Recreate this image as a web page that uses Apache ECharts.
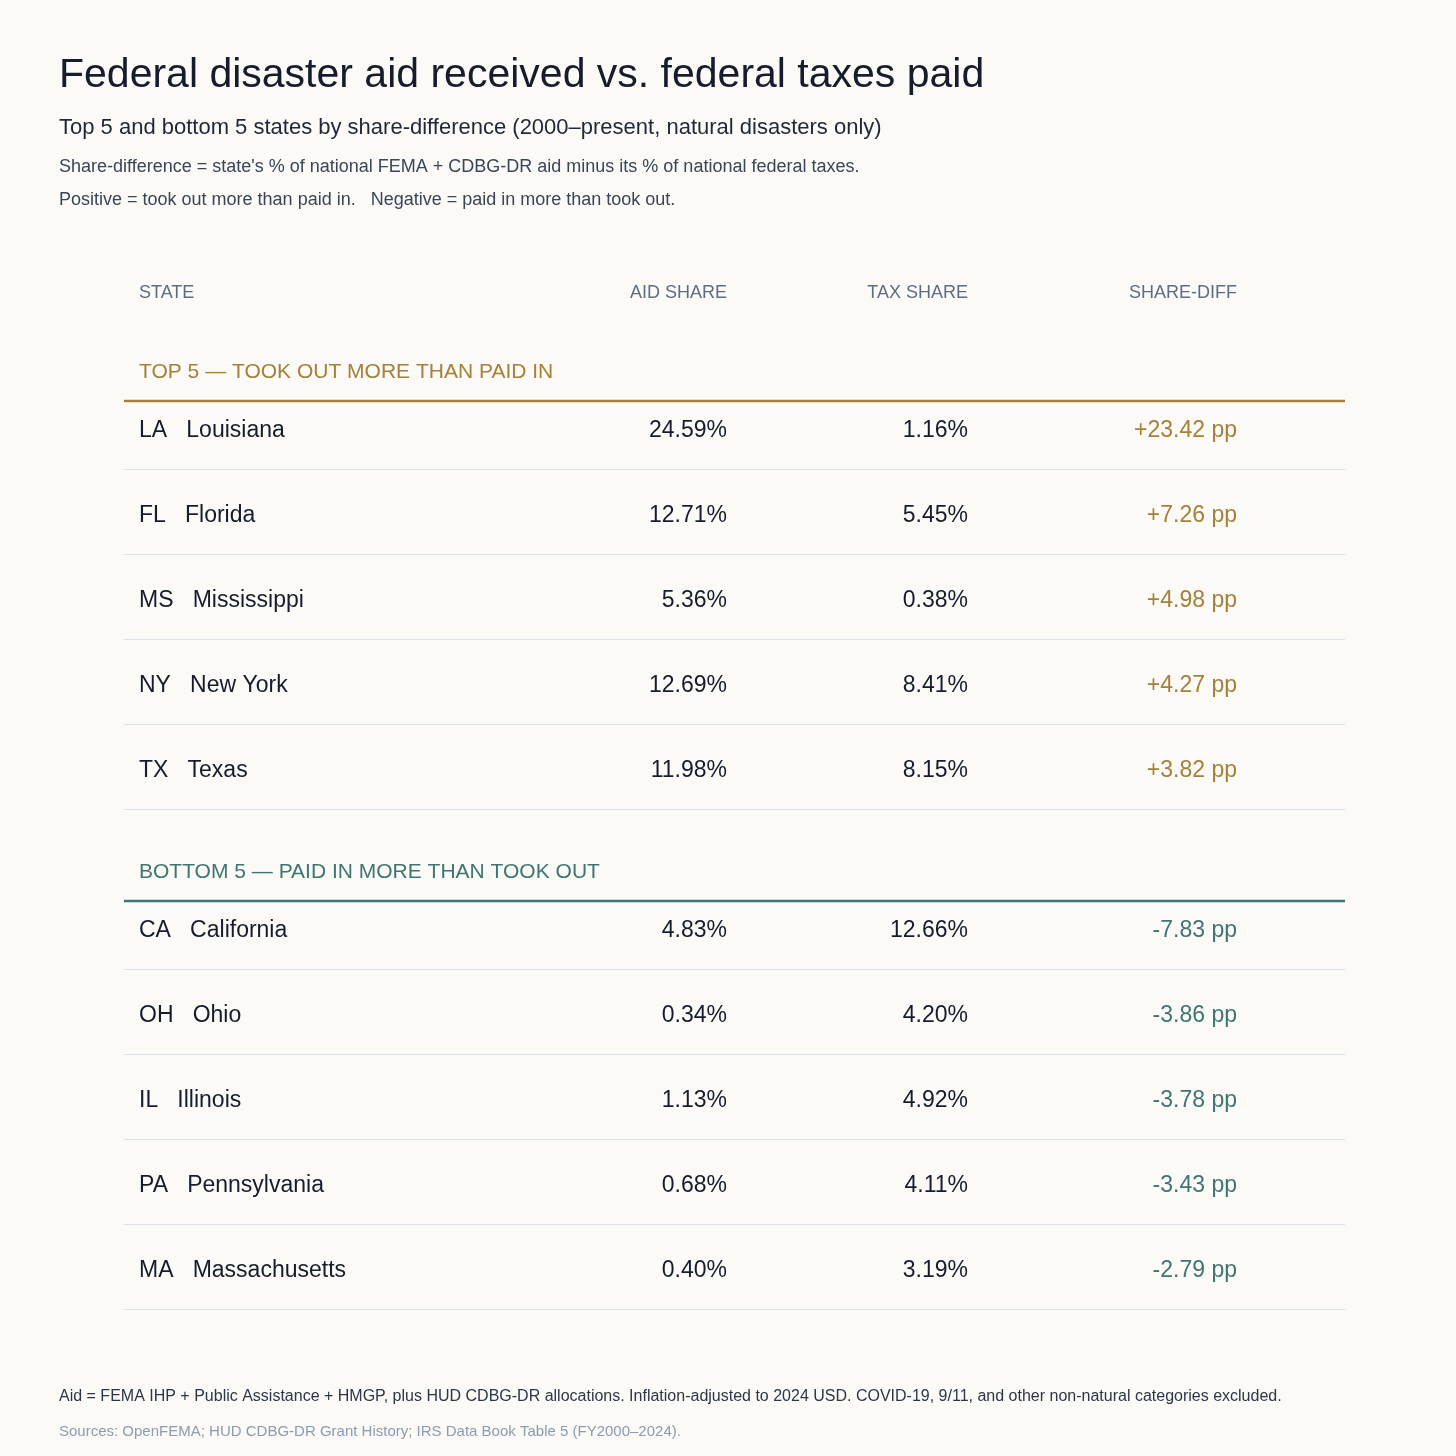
<!DOCTYPE html>
<html><head><meta charset="utf-8">
<script src="https://cdn.jsdelivr.net/npm/echarts@6/dist/echarts.min.js"></script>
<style>html,body{margin:0;background:#fbfaf7}#c{width:1456px;height:1456px}</style>
</head><body><div id="c"></div>
<script>
var topCodes = ['LA', 'FL', 'MS', 'NY', 'TX'];
var topNames = ['Louisiana', 'Florida', 'Mississippi', 'New York', 'Texas'];
var topAid = [24.59, 12.71, 5.36, 12.69, 11.98];
var topTax = [1.16, 5.45, 0.38, 8.41, 8.15];
var topDiff = [23.42, 7.26, 4.98, 4.27, 3.82];

var botCodes = ['CA', 'OH', 'IL', 'PA', 'MA'];
var botNames = ['California', 'Ohio', 'Illinois', 'Pennsylvania', 'Massachusetts'];
var botAid = [4.83, 0.34, 1.13, 0.68, 0.40];
var botTax = [12.66, 4.20, 4.92, 4.11, 3.19];
var botDiff = [-7.83, -3.86, -3.78, -3.43, -2.79];

var headers = ['STATE', 'AID SHARE', 'TAX SHARE', 'SHARE-DIFF'];

var FONT = '"Liberation Sans", Arial, sans-serif';
var gold = '#a4803a', teal = '#3e7571', ink = '#161c2c';
var els = [];

function txt(x, y, s, size, color, align) {
  els.push({type: 'text', x: x, y: y, style: {text: s, fontSize: size, fill: color,
    fontFamily: FONT, textAlign: align || 'left', textVerticalAlign: 'middle'}});
}
function line(y, color, w) {
  els.push({type: 'line', shape: {x1: 124, y1: y, x2: 1345, y2: y}, style: {stroke: color, lineWidth: w}});
}

txt(59, 76, 'Federal disaster aid received vs. federal taxes paid', 41, ink);
txt(59, 128, 'Top 5 and bottom 5 states by share-difference (2000\u2013present, natural disasters only)', 22, '#1f2738');
txt(59, 167, "Share-difference = state's % of national FEMA + CDBG-DR aid minus its % of national federal taxes.", 18, '#3a4556');
txt(59, 200, 'Positive = took out more than paid in.   Negative = paid in more than took out.', 18, '#3a4556');

txt(139, 293, headers[0], 18, '#5e6d82');
txt(727, 293, headers[1], 18, '#5e6d82', 'right');
txt(968, 293, headers[2], 18, '#5e6d82', 'right');
txt(1237, 293, headers[3], 18, '#5e6d82', 'right');

function section(y0, title, color, codes, names, aid, tax, diff) {
  txt(139, y0, title, 21, color);
  line(y0 + 29, color, 2.5);
  for (var i = 0; i < codes.length; i++) {
    var y = y0 + 59 + i * 85;
    txt(139, y, codes[i] + '   ' + names[i], 23, ink);
    txt(727, y, aid[i].toFixed(2) + '%', 23, ink, 'right');
    txt(968, y, tax[i].toFixed(2) + '%', 23, ink, 'right');
    txt(1237, y, (diff[i] > 0 ? '+' : '') + diff[i].toFixed(2) + ' pp', 23, color, 'right');
    line(y + 38.5, '#dde1e6', 1);
  }
}
section(372, 'TOP 5 \u2014 TOOK OUT MORE THAN PAID IN', gold, topCodes, topNames, topAid, topTax, topDiff);
section(872, 'BOTTOM 5 \u2014 PAID IN MORE THAN TOOK OUT', teal, botCodes, botNames, botAid, botTax, botDiff);

txt(59, 1397, 'Aid = FEMA IHP + Public Assistance + HMGP, plus HUD CDBG-DR allocations. Inflation-adjusted to 2024 USD. COVID-19, 9/11, and other non-natural categories excluded.', 16, '#2d3645');
txt(59, 1432, 'Sources: OpenFEMA; HUD CDBG-DR Grant History; IRS Data Book Table 5 (FY2000\u20132024).', 15, '#8b9bb0');

var chart = echarts.init(document.getElementById('c'));
chart.setOption({backgroundColor: '#fbfaf7', animation: false, graphic: {elements: els}});
</script></body></html>
